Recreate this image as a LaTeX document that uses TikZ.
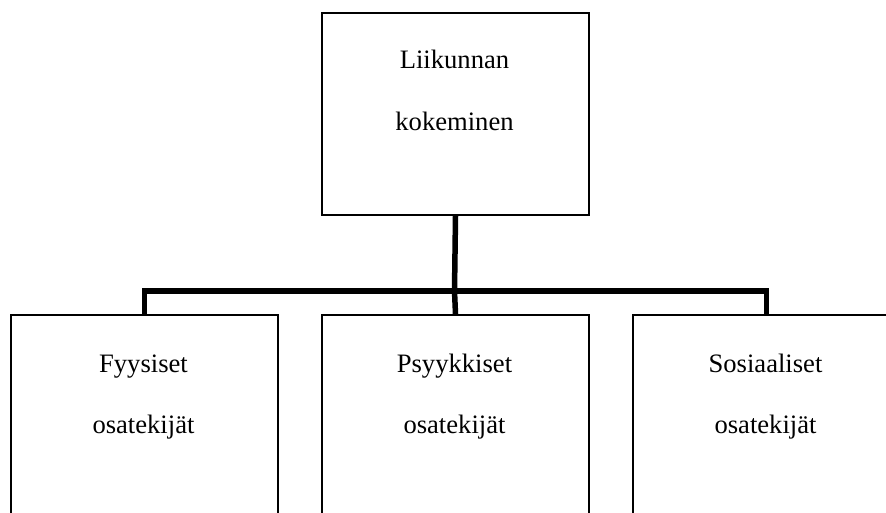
\documentclass[tikz,border=0pt]{standalone}
\usepackage{fontspec}
\setmainfont{Liberation Serif}
\begin{document}
\begin{tikzpicture}[x=1pt,y=-1pt,
  boxstyle/.style={draw=black, line width=2pt, rectangle, inner sep=0pt, minimum width=267pt, anchor=north west},
  txt/.style={font=\fontsize{26.6}{62}\selectfont, inner sep=0pt, anchor=base},
  conn/.style={draw=black, line width=5.5pt, line join=miter}]
\useasboundingbox (0,0) rectangle (886,513);
\clip (0,0) rectangle (886,513);
\fill[white] (0,0) rectangle (886,513);
% boxes
\node[boxstyle, minimum height=202pt] (top) at (321,12) {};
\node[boxstyle, minimum height=206pt] (b1) at (10,314) {};
\node[boxstyle, minimum height=206pt] (b2) at (321,314) {};
\node[boxstyle, minimum height=206pt] (b3) at (632,314) {};
% texts
\node[txt] (t1) at (454.5,69) {Liikunnan};
\node[txt] (t2) at (454.5,131) {kokeminen};
\node[txt] (a1) at (143.5,372) {Fyysiset};
\node[txt] (a2) at (143.5,433) {osatekijät};
\node[txt] (p1) at (454.5,372) {Psyykkiset};
\node[txt] (p2) at (454.5,433) {osatekijät};
\node[txt] (s1) at (765.5,372) {Sosiaaliset};
\node[txt] (s2) at (765.5,433) {osatekijät};
% connectors
\coordinate (bus) at (454.5,291);
\draw[conn] (top.south) -- (bus) -- (b2.north);
\draw[conn] (b1.north) |- (bus) -| (b3.north);
\end{tikzpicture}
\end{document}
